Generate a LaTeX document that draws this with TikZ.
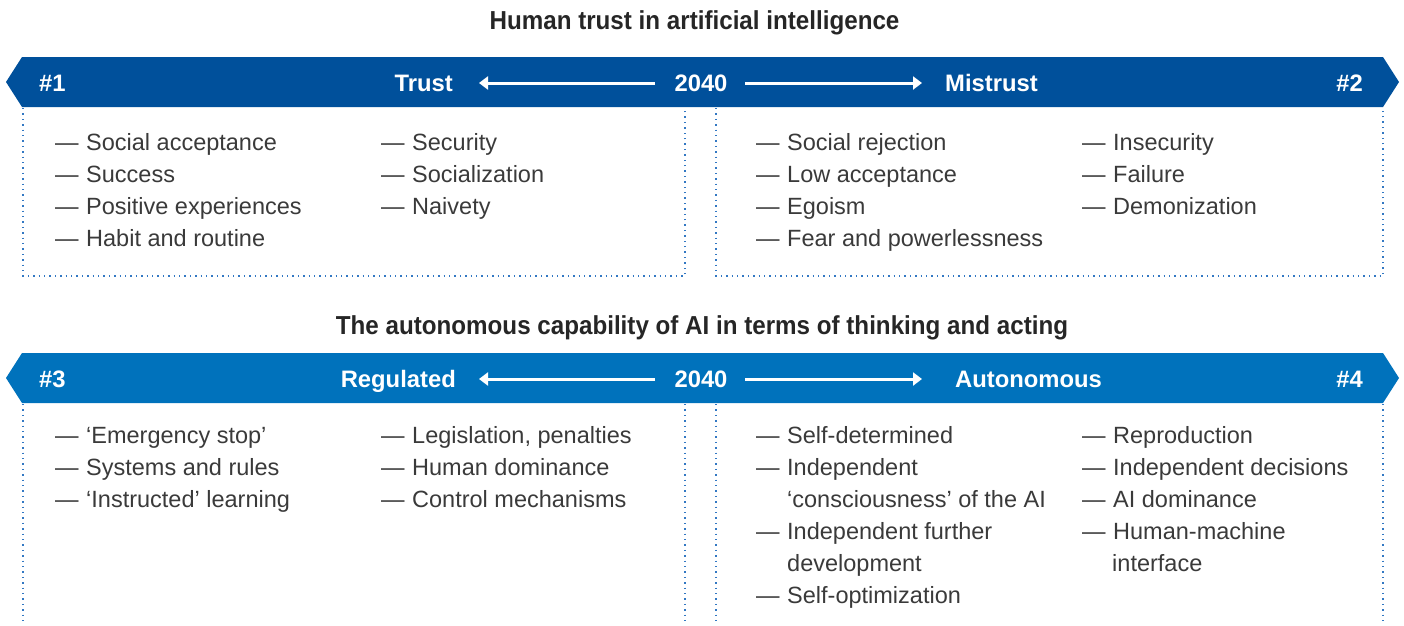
\documentclass[tikz,border=0pt]{standalone}
\usepackage{fontspec}
\setmainfont{Liberation Sans}
\usetikzlibrary{arrows.meta}
\definecolor{bannerA}{RGB}{0,80,155}
\definecolor{bannerB}{RGB}{0,114,188}
\definecolor{dotc}{RGB}{50,120,195}
\definecolor{txt}{RGB}{58,58,58}
\newcommand{\dsh}{—\hspace{7.5pt}}
\tikzset{
 item/.style={anchor=base west, inner sep=0pt, text=txt, font=\fontsize{23.5}{28}\selectfont},
 btext/.style={anchor=base, inner sep=0pt, text=white, font=\fontsize{23.8}{28}\selectfont\bfseries},
 ttl/.style={anchor=base, inner sep=0pt, text=black!85, font=\fontsize{26}{30}\selectfont\bfseries},
 dotline/.style={draw=dotc, line width=1.4pt, dash pattern=on 1.4pt off 4pt},
 arr/.style={draw=white, line width=3pt, -{Triangle[length=9pt,width=13pt]}},
}
\begin{document}
\begin{tikzpicture}[x=1pt,y=-1pt]
\useasboundingbox (0,0) rectangle (1404,625);
% ---------- Section 1 ----------
\node[ttl] (t1) at (694.5,29.5) {\scalebox{0.93}[1]{Human trust in artificial intelligence}};
\fill[bannerA] (22,57) -- (1383,57) -- (1399,82) -- (1383,107) -- (22,107) -- (6,82) -- cycle;
\node[btext, anchor=base west] (n1) at (39,91) {\#1};
\node[btext, anchor=base east] (trust) at (453,91) {Trust};
\node[btext] (y1) at (701,91) {2040};
\node[btext, anchor=base west] (mistrust) at (945,91) {Mistrust};
\node[btext, anchor=base east] (n2) at (1363,91) {\#2};
\coordinate (a1s) at (655,83); \coordinate (a1e) at (479,83);
\coordinate (a2s) at (745,83); \coordinate (a2e) at (922,83);
\draw[arr] (a1s) -- (a1e);
\draw[arr] (a2s) -- (a2e);
\draw[dotline] (23,108) -- (23,276) -- (685,276) -- (685,108);
\draw[dotline] (716,108) -- (716,276) -- (1383,276) -- (1383,108);
\node[item] (i11) at (55,150) {\dsh Social acceptance};
\node[item] (i12) at (55,182) {\dsh Success};
\node[item] (i13) at (55,214) {\dsh Positive experiences};
\node[item] (i14) at (55,246) {\dsh Habit and routine};
\node[item] (i21) at (381,150) {\dsh Security};
\node[item] (i22) at (381,182) {\dsh Socialization};
\node[item] (i23) at (381,214) {\dsh Naivety};
\node[item] (i31) at (756,150) {\dsh Social rejection};
\node[item] (i32) at (756,182) {\dsh Low acceptance};
\node[item] (i33) at (756,214) {\dsh Egoism};
\node[item] (i34) at (756,246) {\dsh Fear and powerlessness};
\node[item] (i41) at (1082,150) {\dsh Insecurity};
\node[item] (i42) at (1082,182) {\dsh Failure};
\node[item] (i43) at (1082,214) {\dsh Demonization};
% ---------- Section 2 ----------
\node[ttl] (t2) at (702,334) {\scalebox{0.93}[1]{The autonomous capability of AI in terms of thinking and acting}};
\fill[bannerB] (22,353) -- (1383,353) -- (1399,378) -- (1383,403) -- (22,403) -- (6,378) -- cycle;
\node[btext, anchor=base west] (n3) at (39,387) {\#3};
\node[btext, anchor=base east] (regulated) at (456,387) {Regulated};
\node[btext] (y2) at (701,387) {2040};
\node[btext, anchor=base west] (autonomous) at (955,387) {Autonomous};
\node[btext, anchor=base east] (n4) at (1363,387) {\#4};
\coordinate (b1s) at (655,379); \coordinate (b1e) at (479,379);
\coordinate (b2s) at (745,379); \coordinate (b2e) at (922,379);
\draw[arr] (b1s) -- (b1e);
\draw[arr] (b2s) -- (b2e);
\draw[dotline] (23,404) -- (23,625);
\draw[dotline] (685,404) -- (685,625);
\draw[dotline] (716,404) -- (716,625);
\draw[dotline] (1383,404) -- (1383,625);
\node[item] (j11) at (55,443) {\dsh ‘Emergency stop’};
\node[item] (j12) at (55,475) {\dsh Systems and rules};
\node[item] (j13) at (55,507) {\dsh ‘Instructed’ learning};
\node[item] (j21) at (381,443) {\dsh Legislation, penalties};
\node[item] (j22) at (381,475) {\dsh Human dominance};
\node[item] (j23) at (381,507) {\dsh Control mechanisms};
\node[item] (j31) at (756,443) {\dsh Self-determined};
\node[item] (j32) at (756,475) {\dsh Independent};
\node[item] (j32b) at (787,507) {‘consciousness’ of the AI};
\node[item] (j33) at (756,539) {\dsh Independent further};
\node[item] (j33b) at (787,571) {development};
\node[item] (j34) at (756,603) {\dsh Self-optimization};
\node[item] (j41) at (1082,443) {\dsh Reproduction};
\node[item] (j42) at (1082,475) {\dsh Independent decisions};
\node[item] (j43) at (1082,507) {\dsh AI dominance};
\node[item] (j44) at (1082,539) {\dsh Human-machine};
\node[item] (j44b) at (1112,571) {interface};
\end{tikzpicture}
\end{document}
